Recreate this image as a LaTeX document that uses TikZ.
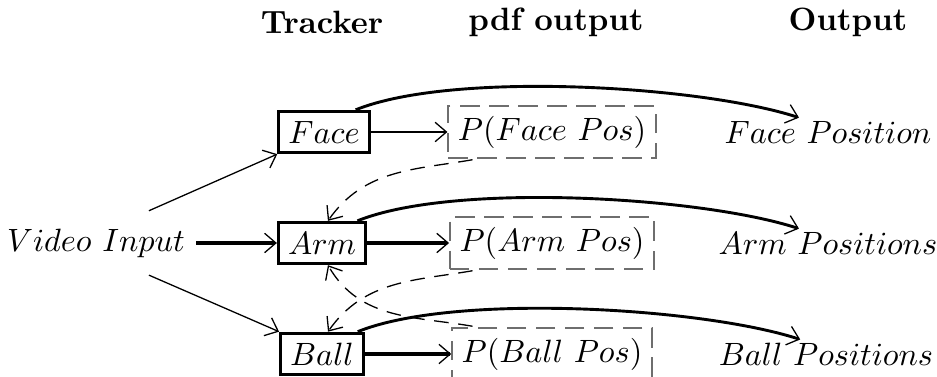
\documentclass[tikz,border=0pt]{standalone}
\usepackage{amsmath}
\usepackage{tikz}
\usetikzlibrary{arrows.meta,positioning}
\definecolor{frameGray}{RGB}{110,110,110}

\begin{document}
\begin{tikzpicture}[
  x=0.31pt, y=0.31pt,
  trk/.style={rectangle, draw, line width=0.9pt, inner sep=3pt},
  pdf/.style={rectangle, draw=frameGray, line width=0.5pt,
              dash pattern=on 6pt off 3pt, inner sep=3pt,
              minimum height=14.5pt},
  hdr/.style={font=\bfseries},
  arr/.style={-{Straight Barb[length=3.5pt,width=6pt,line width=0.4pt]},
              line width=#1},
  arr/.default=0.4pt,
  fb/.style={arr, dash pattern=on 4.5pt off 3pt, shorten <=2pt},
  curv/.style={arr=0.9pt, out=22, in=162, looseness=0.6}
]
  \useasboundingbox (0,0) rectangle (937,377);
  % column headings
  \node[hdr] (hTrk) at (322,355) {Tracker};
  \node[hdr] (hPdf) at (556,355) {pdf output};
  \node[hdr] (hOut) at (848,355) {Output};
  % input, trackers, pdfs, outputs
  \node (vid) at (96,134) {$Video\ Input$};
  \node[trk] (face) at (324,245) {$Face$};
  \node[trk] (arm) at (322,134) {$Arm$};
  \node[trk] (ball) at (322,23) {$Ball$};
  \node[pdf] (pface) at (552,245) {$P(Face\ Pos)$};
  \node[pdf] (parm) at (552,134) {$P(Arm\ Pos)$};
  \node[pdf] (pball) at (552,23) {$P(Ball\ Pos)$};
  \node (oface) at (828,245) {$Face\ Position$};
  \node (oarm) at (828,134) {$Arm\ Positions$};
  \node (oball) at (826,23) {$Ball\ Positions$};
  % connectors
  \draw[arr, shorten <=5pt] (vid.34) -- (face.south west);
  \draw[arr=1.2pt] (vid) -- (arm);
  \draw[arr, shorten <=5pt] (vid.-34) -- (ball.north west);
  \draw[arr=0.9pt] (face) -- (pface);
  \draw[arr=1.2pt] (arm) -- (parm);
  \draw[arr=1.3pt] (ball) -- (pball);
  \draw[curv] (face.35) to ([xshift=-9pt,yshift=-2.5pt]oface.north);
  \draw[curv] (arm.32) to ([xshift=-9pt,yshift=-2.5pt]oarm.north);
  \draw[curv] (ball.32) to ([xshift=-8pt,yshift=-2.5pt]oball.north);
  % feedback
  \draw[fb] (pface.200) to[out=190, in=55] (arm.75);
  \draw[fb] (parm.200) to[out=190, in=55] (ball.75);
  \draw[fb] (pball.160) to[out=170, in=-60] (arm.-75);
\end{tikzpicture}
\end{document}
